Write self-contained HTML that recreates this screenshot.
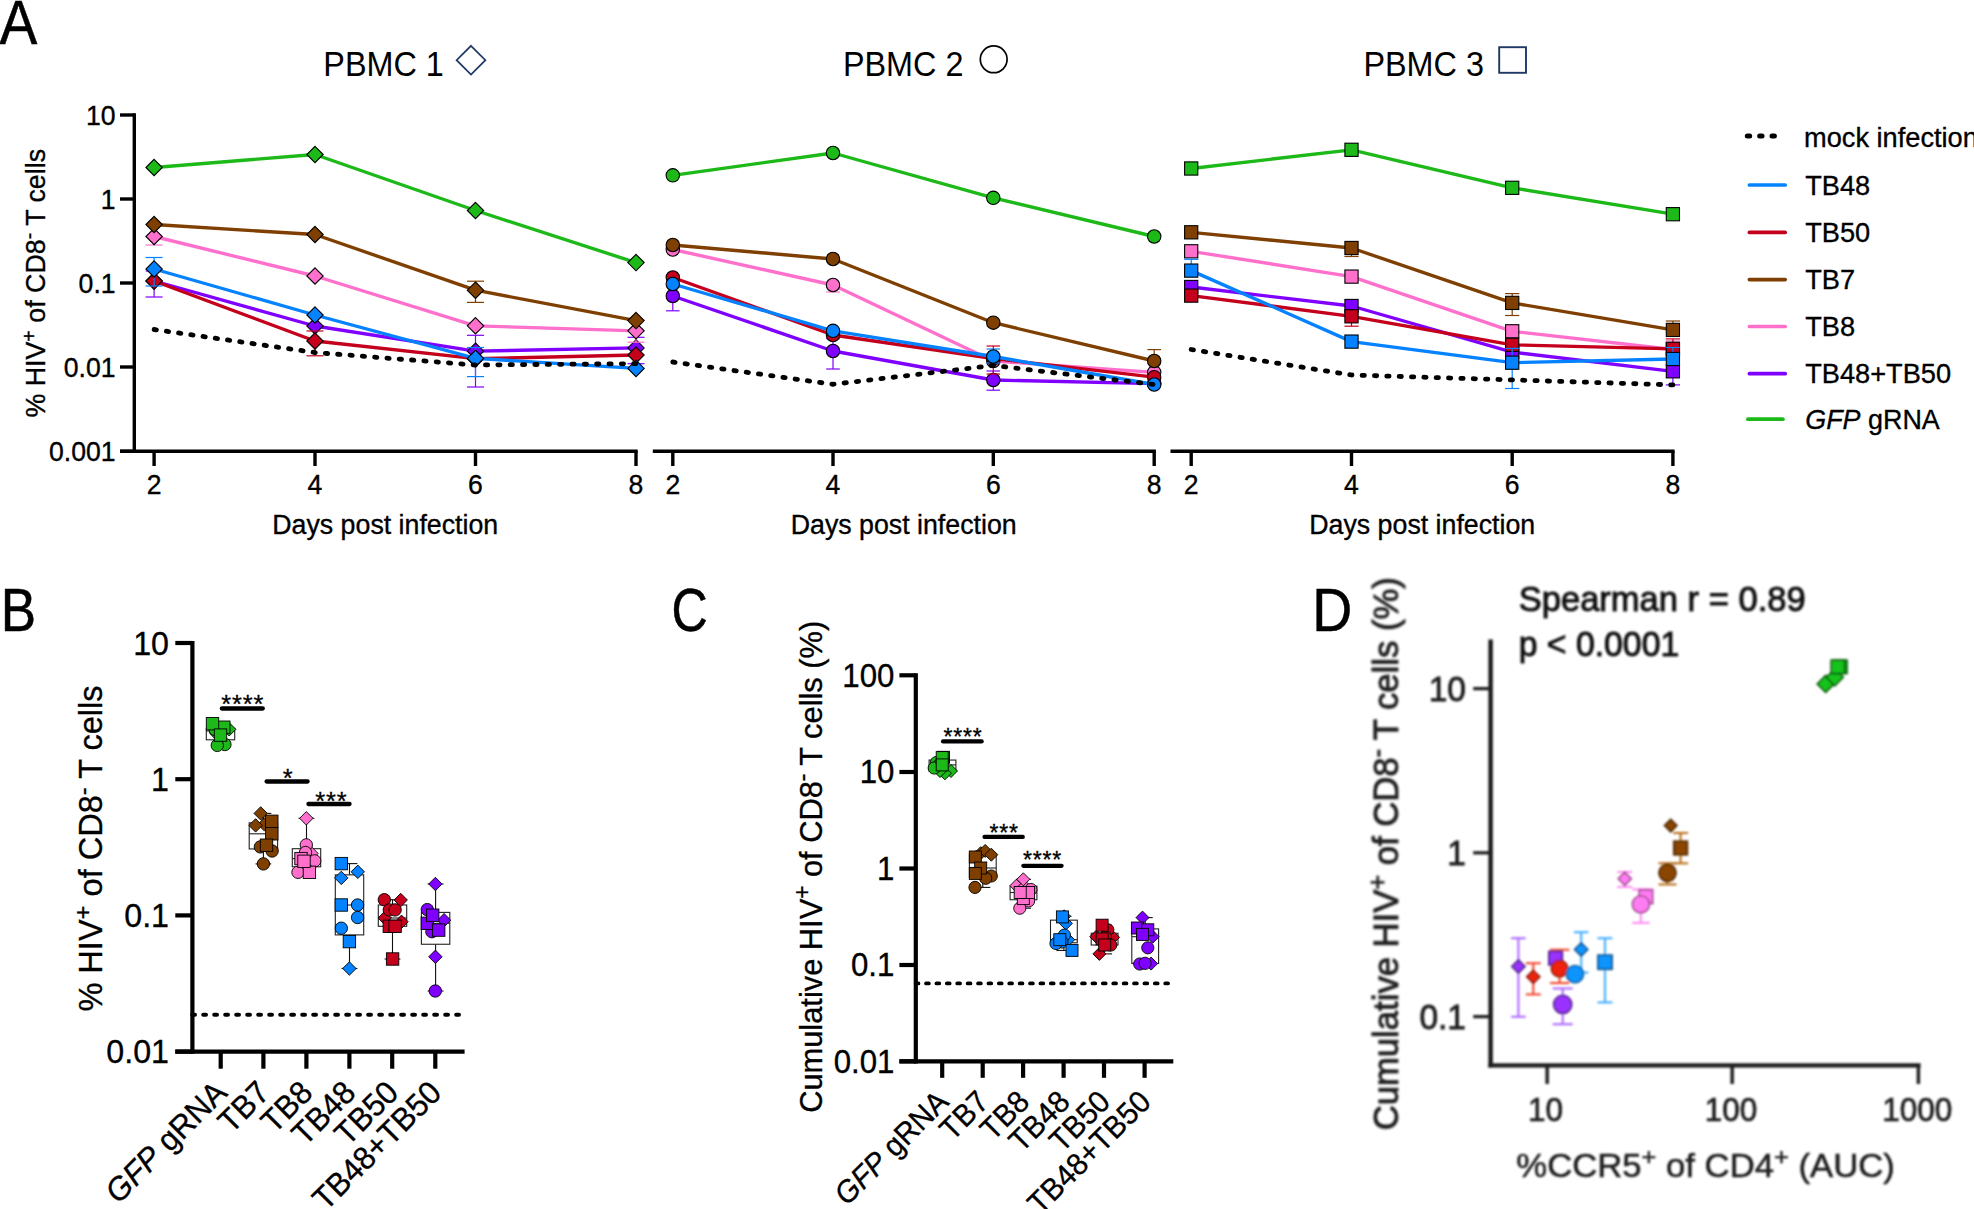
<!DOCTYPE html>
<html lang="en"><head><meta charset="utf-8"><title>Figure</title>
<style>
html,body{margin:0;padding:0;background:#fff;}
body{width:1974px;height:1209px;overflow:hidden;}
svg{display:block;font-family:"Liberation Sans",Arial,sans-serif;}
</style></head><body>
<svg width="1974" height="1209" viewBox="0 0 1974 1209">
<defs><filter id="blur" x="-5%" y="-5%" width="110%" height="110%"><feGaussianBlur stdDeviation="0.95"/></filter></defs>
<rect width="1974" height="1209" fill="#fff"/>

<text transform="translate(-0.5 44) scale(0.905 1)" font-size="62.6" stroke="#000" stroke-width="0.55">A</text>
<text transform="translate(0.7 630.6) scale(0.86 1)" font-size="61.6" stroke="#000" stroke-width="0.55">B</text>
<text transform="translate(671.6 631) scale(0.815 1)" font-size="61.5" stroke="#000" stroke-width="0.55">C</text>
<text transform="translate(1312.3 630.8) scale(0.905 1)" font-size="61.2" stroke="#000" stroke-width="0.55">D</text>
<line x1="134.3" y1="113.3" x2="134.3" y2="453" stroke="#000" stroke-width="3.4" stroke-linecap="butt" />
<line x1="120" y1="115" x2="134.3" y2="115" stroke="#000" stroke-width="3.4" stroke-linecap="butt" />
<line x1="120" y1="199" x2="134.3" y2="199" stroke="#000" stroke-width="3.4" stroke-linecap="butt" />
<line x1="120" y1="283" x2="134.3" y2="283" stroke="#000" stroke-width="3.4" stroke-linecap="butt" />
<line x1="120" y1="367" x2="134.3" y2="367" stroke="#000" stroke-width="3.4" stroke-linecap="butt" />
<line x1="120" y1="451.3" x2="134.3" y2="451.3" stroke="#000" stroke-width="3.4" stroke-linecap="butt" />
<text x="115.6" y="124.6" font-size="27.66" text-anchor="end" fill="#000" stroke="#000" stroke-width="0.35" textLength="29.59" lengthAdjust="spacingAndGlyphs" >10</text>
<text x="115.6" y="208.6" font-size="27.66" text-anchor="end" fill="#000" stroke="#000" stroke-width="0.35" textLength="14.79" lengthAdjust="spacingAndGlyphs" >1</text>
<text x="115.6" y="292.6" font-size="27.66" text-anchor="end" fill="#000" stroke="#000" stroke-width="0.35" textLength="36.98" lengthAdjust="spacingAndGlyphs" >0.1</text>
<text x="115.6" y="376.6" font-size="27.66" text-anchor="end" fill="#000" stroke="#000" stroke-width="0.35" textLength="51.77" lengthAdjust="spacingAndGlyphs" >0.01</text>
<text x="115.6" y="460.6" font-size="27.66" text-anchor="end" fill="#000" stroke="#000" stroke-width="0.35" textLength="66.57" lengthAdjust="spacingAndGlyphs" >0.001</text>
<text transform="translate(45.2 417.6) rotate(-90)" font-size="27.77" fill="#000" stroke="#000" stroke-width="0.35" textLength="268.7" lengthAdjust="spacingAndGlyphs">% HIV<tspan font-size="20.27" dy="-9.61">+</tspan><tspan dy="9.61"> of CD8</tspan><tspan font-size="20.27" dy="-9.61">-</tspan><tspan dy="9.61"> T cells</tspan></text>
<line x1="120" y1="451.3" x2="637.7" y2="451.3" stroke="#000" stroke-width="3.4" stroke-linecap="butt" />
<line x1="154.1" y1="451.3" x2="154.1" y2="466" stroke="#000" stroke-width="3.4" stroke-linecap="butt" />
<text x="154.1" y="494.4" font-size="27.66" text-anchor="middle" fill="#000" stroke="#000" stroke-width="0.35" textLength="14.79" lengthAdjust="spacingAndGlyphs" >2</text>
<line x1="315" y1="451.3" x2="315" y2="466" stroke="#000" stroke-width="3.4" stroke-linecap="butt" />
<text x="315" y="494.4" font-size="27.66" text-anchor="middle" fill="#000" stroke="#000" stroke-width="0.35" textLength="14.79" lengthAdjust="spacingAndGlyphs" >4</text>
<line x1="475.5" y1="451.3" x2="475.5" y2="466" stroke="#000" stroke-width="3.4" stroke-linecap="butt" />
<text x="475.5" y="494.4" font-size="27.66" text-anchor="middle" fill="#000" stroke="#000" stroke-width="0.35" textLength="14.79" lengthAdjust="spacingAndGlyphs" >6</text>
<line x1="636" y1="451.3" x2="636" y2="466" stroke="#000" stroke-width="3.4" stroke-linecap="butt" />
<text x="636" y="494.4" font-size="27.66" text-anchor="middle" fill="#000" stroke="#000" stroke-width="0.35" textLength="14.79" lengthAdjust="spacingAndGlyphs" >8</text>
<text x="385.25" y="533.9" font-size="27.82" text-anchor="middle" fill="#000" stroke="#000" stroke-width="0.35" textLength="226" lengthAdjust="spacingAndGlyphs" >Days post infection</text>
<text x="323.3" y="76.3" font-size="34.2" textLength="120.5" lengthAdjust="spacingAndGlyphs">PBMC 1</text>
<polyline points="154.1,167.5 315,154.5 475.5,210.5 636,262.6" fill="none" stroke="#1cb918" stroke-width="3.35" stroke-linejoin="round"/>
<path d="M154.1 159.3L162.3 167.5L154.1 175.7L145.9 167.5Z" fill="#1cb918" stroke="#000" stroke-width="1.1"/>
<path d="M315 146.3L323.2 154.5L315 162.7L306.8 154.5Z" fill="#1cb918" stroke="#000" stroke-width="1.1"/>
<path d="M475.5 202.3L483.7 210.5L475.5 218.7L467.3 210.5Z" fill="#1cb918" stroke="#000" stroke-width="1.1"/>
<path d="M636 254.4L644.2 262.6L636 270.8L627.8 262.6Z" fill="#1cb918" stroke="#000" stroke-width="1.1"/>
<line x1="154.1" y1="271" x2="154.1" y2="297" stroke="#8000ff" stroke-width="1.2" stroke-linecap="butt" />
<line x1="145.6" y1="271" x2="162.6" y2="271" stroke="#8000ff" stroke-width="1.2" stroke-linecap="butt" />
<line x1="145.6" y1="297" x2="162.6" y2="297" stroke="#8000ff" stroke-width="1.2" stroke-linecap="butt" />
<line x1="475.5" y1="335.3" x2="475.5" y2="387" stroke="#8000ff" stroke-width="1.2" stroke-linecap="butt" />
<line x1="467" y1="335.3" x2="484" y2="335.3" stroke="#8000ff" stroke-width="1.2" stroke-linecap="butt" />
<line x1="467" y1="387" x2="484" y2="387" stroke="#8000ff" stroke-width="1.2" stroke-linecap="butt" />
<line x1="636" y1="337.3" x2="636" y2="363.7" stroke="#8000ff" stroke-width="1.2" stroke-linecap="butt" />
<line x1="627.5" y1="337.3" x2="644.5" y2="337.3" stroke="#8000ff" stroke-width="1.2" stroke-linecap="butt" />
<line x1="627.5" y1="363.7" x2="644.5" y2="363.7" stroke="#8000ff" stroke-width="1.2" stroke-linecap="butt" />
<polyline points="154.1,281 315,326 475.5,351.2 636,347.9" fill="none" stroke="#8000ff" stroke-width="3.35" stroke-linejoin="round"/>
<path d="M154.1 272.8L162.3 281L154.1 289.2L145.9 281Z" fill="#8000ff" stroke="#000" stroke-width="1.1"/>
<path d="M315 317.8L323.2 326L315 334.2L306.8 326Z" fill="#8000ff" stroke="#000" stroke-width="1.1"/>
<path d="M475.5 343L483.7 351.2L475.5 359.4L467.3 351.2Z" fill="#8000ff" stroke="#000" stroke-width="1.1"/>
<path d="M636 339.7L644.2 347.9L636 356.1L627.8 347.9Z" fill="#8000ff" stroke="#000" stroke-width="1.1"/>
<line x1="154.1" y1="236.5" x2="154.1" y2="245" stroke="#ff70cc" stroke-width="1.2" stroke-linecap="butt" />
<line x1="145.6" y1="245" x2="162.6" y2="245" stroke="#ff70cc" stroke-width="1.2" stroke-linecap="butt" />
<line x1="636" y1="330.8" x2="636" y2="342.2" stroke="#ff70cc" stroke-width="1.2" stroke-linecap="butt" />
<line x1="627.5" y1="342.2" x2="644.5" y2="342.2" stroke="#ff70cc" stroke-width="1.2" stroke-linecap="butt" />
<polyline points="154.1,236.5 315,276 475.5,325.8 636,330.8" fill="none" stroke="#ff70cc" stroke-width="3.35" stroke-linejoin="round"/>
<path d="M154.1 228.3L162.3 236.5L154.1 244.7L145.9 236.5Z" fill="#ff70cc" stroke="#000" stroke-width="1.1"/>
<path d="M315 267.8L323.2 276L315 284.2L306.8 276Z" fill="#ff70cc" stroke="#000" stroke-width="1.1"/>
<path d="M475.5 317.6L483.7 325.8L475.5 334L467.3 325.8Z" fill="#ff70cc" stroke="#000" stroke-width="1.1"/>
<path d="M636 322.6L644.2 330.8L636 339L627.8 330.8Z" fill="#ff70cc" stroke="#000" stroke-width="1.1"/>
<line x1="475.5" y1="281.2" x2="475.5" y2="302.4" stroke="#7f3f00" stroke-width="1.2" stroke-linecap="butt" />
<line x1="467" y1="281.2" x2="484" y2="281.2" stroke="#7f3f00" stroke-width="1.2" stroke-linecap="butt" />
<line x1="467" y1="302.4" x2="484" y2="302.4" stroke="#7f3f00" stroke-width="1.2" stroke-linecap="butt" />
<polyline points="154.1,224.5 315,234.5 475.5,290.2 636,320.6" fill="none" stroke="#7f3f00" stroke-width="3.35" stroke-linejoin="round"/>
<path d="M154.1 216.3L162.3 224.5L154.1 232.7L145.9 224.5Z" fill="#7f3f00" stroke="#000" stroke-width="1.1"/>
<path d="M315 226.3L323.2 234.5L315 242.7L306.8 234.5Z" fill="#7f3f00" stroke="#000" stroke-width="1.1"/>
<path d="M475.5 282L483.7 290.2L475.5 298.4L467.3 290.2Z" fill="#7f3f00" stroke="#000" stroke-width="1.1"/>
<path d="M636 312.4L644.2 320.6L636 328.8L627.8 320.6Z" fill="#7f3f00" stroke="#000" stroke-width="1.1"/>
<line x1="315" y1="331" x2="315" y2="355.8" stroke="#c4001c" stroke-width="1.2" stroke-linecap="butt" />
<line x1="306.5" y1="331" x2="323.5" y2="331" stroke="#c4001c" stroke-width="1.2" stroke-linecap="butt" />
<line x1="306.5" y1="355.8" x2="323.5" y2="355.8" stroke="#c4001c" stroke-width="1.2" stroke-linecap="butt" />
<polyline points="154.1,281 315,341 475.5,358.7 636,355" fill="none" stroke="#c4001c" stroke-width="3.35" stroke-linejoin="round"/>
<path d="M154.1 272.8L162.3 281L154.1 289.2L145.9 281Z" fill="#c4001c" stroke="#000" stroke-width="1.1"/>
<path d="M315 332.8L323.2 341L315 349.2L306.8 341Z" fill="#c4001c" stroke="#000" stroke-width="1.1"/>
<path d="M475.5 350.5L483.7 358.7L475.5 366.9L467.3 358.7Z" fill="#c4001c" stroke="#000" stroke-width="1.1"/>
<path d="M636 346.8L644.2 355L636 363.2L627.8 355Z" fill="#c4001c" stroke="#000" stroke-width="1.1"/>
<line x1="154.1" y1="257.5" x2="154.1" y2="286" stroke="#0582ff" stroke-width="1.2" stroke-linecap="butt" />
<line x1="145.6" y1="257.5" x2="162.6" y2="257.5" stroke="#0582ff" stroke-width="1.2" stroke-linecap="butt" />
<line x1="145.6" y1="286" x2="162.6" y2="286" stroke="#0582ff" stroke-width="1.2" stroke-linecap="butt" />
<line x1="475.5" y1="347.5" x2="475.5" y2="376.6" stroke="#0582ff" stroke-width="1.2" stroke-linecap="butt" />
<line x1="467" y1="347.5" x2="484" y2="347.5" stroke="#0582ff" stroke-width="1.2" stroke-linecap="butt" />
<line x1="467" y1="376.6" x2="484" y2="376.6" stroke="#0582ff" stroke-width="1.2" stroke-linecap="butt" />
<polyline points="154.1,269 315,315 475.5,358.4 636,368.4" fill="none" stroke="#0582ff" stroke-width="3.35" stroke-linejoin="round"/>
<path d="M154.1 260.8L162.3 269L154.1 277.2L145.9 269Z" fill="#0582ff" stroke="#000" stroke-width="1.1"/>
<path d="M315 306.8L323.2 315L315 323.2L306.8 315Z" fill="#0582ff" stroke="#000" stroke-width="1.1"/>
<path d="M475.5 350.2L483.7 358.4L475.5 366.6L467.3 358.4Z" fill="#0582ff" stroke="#000" stroke-width="1.1"/>
<path d="M636 360.2L644.2 368.4L636 376.6L627.8 368.4Z" fill="#0582ff" stroke="#000" stroke-width="1.1"/>
<polyline points="154.1,329.5 315,352.5 475.5,365 636,363.7" fill="none" stroke="#000" stroke-width="4.8" stroke-linecap="round" stroke-linejoin="round" stroke-dasharray="2.3 10.05"/>
<line x1="652.8" y1="451.3" x2="1155.9" y2="451.3" stroke="#000" stroke-width="3.4" stroke-linecap="butt" />
<line x1="672.8" y1="451.3" x2="672.8" y2="466" stroke="#000" stroke-width="3.4" stroke-linecap="butt" />
<text x="672.8" y="494.4" font-size="27.66" text-anchor="middle" fill="#000" stroke="#000" stroke-width="0.35" textLength="14.79" lengthAdjust="spacingAndGlyphs" >2</text>
<line x1="833" y1="451.3" x2="833" y2="466" stroke="#000" stroke-width="3.4" stroke-linecap="butt" />
<text x="833" y="494.4" font-size="27.66" text-anchor="middle" fill="#000" stroke="#000" stroke-width="0.35" textLength="14.79" lengthAdjust="spacingAndGlyphs" >4</text>
<line x1="993.3" y1="451.3" x2="993.3" y2="466" stroke="#000" stroke-width="3.4" stroke-linecap="butt" />
<text x="993.3" y="494.4" font-size="27.66" text-anchor="middle" fill="#000" stroke="#000" stroke-width="0.35" textLength="14.79" lengthAdjust="spacingAndGlyphs" >6</text>
<line x1="1154.2" y1="451.3" x2="1154.2" y2="466" stroke="#000" stroke-width="3.4" stroke-linecap="butt" />
<text x="1154.2" y="494.4" font-size="27.66" text-anchor="middle" fill="#000" stroke="#000" stroke-width="0.35" textLength="14.79" lengthAdjust="spacingAndGlyphs" >8</text>
<text x="903.7" y="533.9" font-size="27.82" text-anchor="middle" fill="#000" stroke="#000" stroke-width="0.35" textLength="226" lengthAdjust="spacingAndGlyphs" >Days post infection</text>
<text x="842.9" y="76.3" font-size="34.2" textLength="120.5" lengthAdjust="spacingAndGlyphs">PBMC 2</text>
<polyline points="672.8,175.3 833,153 993.3,197.8 1154.2,236.5" fill="none" stroke="#1cb918" stroke-width="3.35" stroke-linejoin="round"/>
<circle cx="672.8" cy="175.3" r="6.7" fill="#1cb918" stroke="#000" stroke-width="1.1"/>
<circle cx="833" cy="153" r="6.7" fill="#1cb918" stroke="#000" stroke-width="1.1"/>
<circle cx="993.3" cy="197.8" r="6.7" fill="#1cb918" stroke="#000" stroke-width="1.1"/>
<circle cx="1154.2" cy="236.5" r="6.7" fill="#1cb918" stroke="#000" stroke-width="1.1"/>
<line x1="672.8" y1="296" x2="672.8" y2="310.8" stroke="#8000ff" stroke-width="1.2" stroke-linecap="butt" />
<line x1="666" y1="310.8" x2="679.6" y2="310.8" stroke="#8000ff" stroke-width="1.2" stroke-linecap="butt" />
<line x1="833" y1="338.7" x2="833" y2="369" stroke="#8000ff" stroke-width="1.2" stroke-linecap="butt" />
<line x1="826.2" y1="338.7" x2="839.8" y2="338.7" stroke="#8000ff" stroke-width="1.2" stroke-linecap="butt" />
<line x1="826.2" y1="369" x2="839.8" y2="369" stroke="#8000ff" stroke-width="1.2" stroke-linecap="butt" />
<line x1="993.3" y1="371" x2="993.3" y2="390.2" stroke="#8000ff" stroke-width="1.2" stroke-linecap="butt" />
<line x1="986.5" y1="371" x2="1000.1" y2="371" stroke="#8000ff" stroke-width="1.2" stroke-linecap="butt" />
<line x1="986.5" y1="390.2" x2="1000.1" y2="390.2" stroke="#8000ff" stroke-width="1.2" stroke-linecap="butt" />
<polyline points="672.8,296 833,351 993.3,380 1154.2,383.7" fill="none" stroke="#8000ff" stroke-width="3.35" stroke-linejoin="round"/>
<circle cx="672.8" cy="296" r="6.7" fill="#8000ff" stroke="#000" stroke-width="1.1"/>
<circle cx="833" cy="351" r="6.7" fill="#8000ff" stroke="#000" stroke-width="1.1"/>
<circle cx="993.3" cy="380" r="6.7" fill="#8000ff" stroke="#000" stroke-width="1.1"/>
<circle cx="1154.2" cy="383.7" r="6.7" fill="#8000ff" stroke="#000" stroke-width="1.1"/>
<line x1="833" y1="285" x2="833" y2="292" stroke="#ff70cc" stroke-width="1.2" stroke-linecap="butt" />
<line x1="826.2" y1="292" x2="839.8" y2="292" stroke="#ff70cc" stroke-width="1.2" stroke-linecap="butt" />
<polyline points="672.8,249.5 833,285 993.3,361 1154.2,372.3" fill="none" stroke="#ff70cc" stroke-width="3.35" stroke-linejoin="round"/>
<circle cx="672.8" cy="249.5" r="6.7" fill="#ff70cc" stroke="#000" stroke-width="1.1"/>
<circle cx="833" cy="285" r="6.7" fill="#ff70cc" stroke="#000" stroke-width="1.1"/>
<circle cx="993.3" cy="361" r="6.7" fill="#ff70cc" stroke="#000" stroke-width="1.1"/>
<circle cx="1154.2" cy="372.3" r="6.7" fill="#ff70cc" stroke="#000" stroke-width="1.1"/>
<line x1="1154.2" y1="349.6" x2="1154.2" y2="361" stroke="#7f3f00" stroke-width="1.2" stroke-linecap="butt" />
<line x1="1147.4" y1="349.6" x2="1161" y2="349.6" stroke="#7f3f00" stroke-width="1.2" stroke-linecap="butt" />
<polyline points="672.8,245 833,259 993.3,322.7 1154.2,361" fill="none" stroke="#7f3f00" stroke-width="3.35" stroke-linejoin="round"/>
<circle cx="672.8" cy="245" r="6.7" fill="#7f3f00" stroke="#000" stroke-width="1.1"/>
<circle cx="833" cy="259" r="6.7" fill="#7f3f00" stroke="#000" stroke-width="1.1"/>
<circle cx="993.3" cy="322.7" r="6.7" fill="#7f3f00" stroke="#000" stroke-width="1.1"/>
<circle cx="1154.2" cy="361" r="6.7" fill="#7f3f00" stroke="#000" stroke-width="1.1"/>
<line x1="993.3" y1="346" x2="993.3" y2="374" stroke="#c4001c" stroke-width="1.2" stroke-linecap="butt" />
<line x1="986.5" y1="346" x2="1000.1" y2="346" stroke="#c4001c" stroke-width="1.2" stroke-linecap="butt" />
<line x1="986.5" y1="374" x2="1000.1" y2="374" stroke="#c4001c" stroke-width="1.2" stroke-linecap="butt" />
<polyline points="672.8,277.5 833,335 993.3,358.5 1154.2,377.2" fill="none" stroke="#c4001c" stroke-width="3.35" stroke-linejoin="round"/>
<circle cx="672.8" cy="277.5" r="6.7" fill="#c4001c" stroke="#000" stroke-width="1.1"/>
<circle cx="833" cy="335" r="6.7" fill="#c4001c" stroke="#000" stroke-width="1.1"/>
<circle cx="993.3" cy="358.5" r="6.7" fill="#c4001c" stroke="#000" stroke-width="1.1"/>
<circle cx="1154.2" cy="377.2" r="6.7" fill="#c4001c" stroke="#000" stroke-width="1.1"/>
<line x1="993.3" y1="349" x2="993.3" y2="363" stroke="#0582ff" stroke-width="1.2" stroke-linecap="butt" />
<line x1="986.5" y1="349" x2="1000.1" y2="349" stroke="#0582ff" stroke-width="1.2" stroke-linecap="butt" />
<line x1="986.5" y1="363" x2="1000.1" y2="363" stroke="#0582ff" stroke-width="1.2" stroke-linecap="butt" />
<polyline points="672.8,284 833,330.8 993.3,356.5 1154.2,384.5" fill="none" stroke="#0582ff" stroke-width="3.35" stroke-linejoin="round"/>
<circle cx="672.8" cy="284" r="6.7" fill="#0582ff" stroke="#000" stroke-width="1.1"/>
<circle cx="833" cy="330.8" r="6.7" fill="#0582ff" stroke="#000" stroke-width="1.1"/>
<circle cx="993.3" cy="356.5" r="6.7" fill="#0582ff" stroke="#000" stroke-width="1.1"/>
<circle cx="1154.2" cy="384.5" r="6.7" fill="#0582ff" stroke="#000" stroke-width="1.1"/>
<polyline points="672.8,362 833,384.3 993.3,365.5 1154.2,384.5" fill="none" stroke="#000" stroke-width="4.8" stroke-linecap="round" stroke-linejoin="round" stroke-dasharray="2.3 10.05"/>
<line x1="1170.5" y1="451.3" x2="1674.6" y2="451.3" stroke="#000" stroke-width="3.4" stroke-linecap="butt" />
<line x1="1191.2" y1="451.3" x2="1191.2" y2="466" stroke="#000" stroke-width="3.4" stroke-linecap="butt" />
<text x="1191.2" y="494.4" font-size="27.66" text-anchor="middle" fill="#000" stroke="#000" stroke-width="0.35" textLength="14.79" lengthAdjust="spacingAndGlyphs" >2</text>
<line x1="1351.5" y1="451.3" x2="1351.5" y2="466" stroke="#000" stroke-width="3.4" stroke-linecap="butt" />
<text x="1351.5" y="494.4" font-size="27.66" text-anchor="middle" fill="#000" stroke="#000" stroke-width="0.35" textLength="14.79" lengthAdjust="spacingAndGlyphs" >4</text>
<line x1="1512.2" y1="451.3" x2="1512.2" y2="466" stroke="#000" stroke-width="3.4" stroke-linecap="butt" />
<text x="1512.2" y="494.4" font-size="27.66" text-anchor="middle" fill="#000" stroke="#000" stroke-width="0.35" textLength="14.79" lengthAdjust="spacingAndGlyphs" >6</text>
<line x1="1672.9" y1="451.3" x2="1672.9" y2="466" stroke="#000" stroke-width="3.4" stroke-linecap="butt" />
<text x="1672.9" y="494.4" font-size="27.66" text-anchor="middle" fill="#000" stroke="#000" stroke-width="0.35" textLength="14.79" lengthAdjust="spacingAndGlyphs" >8</text>
<text x="1422.25" y="533.9" font-size="27.82" text-anchor="middle" fill="#000" stroke="#000" stroke-width="0.35" textLength="226" lengthAdjust="spacingAndGlyphs" >Days post infection</text>
<text x="1363.4" y="76.3" font-size="34.2" textLength="120.5" lengthAdjust="spacingAndGlyphs">PBMC 3</text>
<polyline points="1191.2,168.5 1351.5,149.8 1512.2,187.8 1672.9,214.2" fill="none" stroke="#1cb918" stroke-width="3.35" stroke-linejoin="round"/>
<rect x="1184.6" y="161.9" width="13.2" height="13.2" fill="#1cb918" stroke="#000" stroke-width="1.1"/>
<rect x="1344.9" y="143.2" width="13.2" height="13.2" fill="#1cb918" stroke="#000" stroke-width="1.1"/>
<rect x="1505.6" y="181.2" width="13.2" height="13.2" fill="#1cb918" stroke="#000" stroke-width="1.1"/>
<rect x="1666.3" y="207.6" width="13.2" height="13.2" fill="#1cb918" stroke="#000" stroke-width="1.1"/>
<line x1="1672.9" y1="371.3" x2="1672.9" y2="384.9" stroke="#8000ff" stroke-width="1.2" stroke-linecap="butt" />
<line x1="1665.8" y1="384.9" x2="1680" y2="384.9" stroke="#8000ff" stroke-width="1.2" stroke-linecap="butt" />
<polyline points="1191.2,287 1351.5,306 1512.2,352.1 1672.9,371.3" fill="none" stroke="#8000ff" stroke-width="3.35" stroke-linejoin="round"/>
<rect x="1184.6" y="280.4" width="13.2" height="13.2" fill="#8000ff" stroke="#000" stroke-width="1.1"/>
<rect x="1344.9" y="299.4" width="13.2" height="13.2" fill="#8000ff" stroke="#000" stroke-width="1.1"/>
<rect x="1505.6" y="345.5" width="13.2" height="13.2" fill="#8000ff" stroke="#000" stroke-width="1.1"/>
<rect x="1666.3" y="364.7" width="13.2" height="13.2" fill="#8000ff" stroke="#000" stroke-width="1.1"/>
<line x1="1672.9" y1="340.9" x2="1672.9" y2="349.5" stroke="#ff70cc" stroke-width="1.2" stroke-linecap="butt" />
<line x1="1665.8" y1="340.9" x2="1680" y2="340.9" stroke="#ff70cc" stroke-width="1.2" stroke-linecap="butt" />
<polyline points="1191.2,251.3 1351.5,276.6 1512.2,331.3 1672.9,349.5" fill="none" stroke="#ff70cc" stroke-width="3.35" stroke-linejoin="round"/>
<rect x="1184.6" y="244.7" width="13.2" height="13.2" fill="#ff70cc" stroke="#000" stroke-width="1.1"/>
<rect x="1344.9" y="270" width="13.2" height="13.2" fill="#ff70cc" stroke="#000" stroke-width="1.1"/>
<rect x="1505.6" y="324.7" width="13.2" height="13.2" fill="#ff70cc" stroke="#000" stroke-width="1.1"/>
<rect x="1666.3" y="342.9" width="13.2" height="13.2" fill="#ff70cc" stroke="#000" stroke-width="1.1"/>
<line x1="1351.5" y1="248" x2="1351.5" y2="256.5" stroke="#7f3f00" stroke-width="1.2" stroke-linecap="butt" />
<line x1="1344.4" y1="256.5" x2="1358.6" y2="256.5" stroke="#7f3f00" stroke-width="1.2" stroke-linecap="butt" />
<line x1="1512.2" y1="293.6" x2="1512.2" y2="315.5" stroke="#7f3f00" stroke-width="1.2" stroke-linecap="butt" />
<line x1="1505.1" y1="293.6" x2="1519.3" y2="293.6" stroke="#7f3f00" stroke-width="1.2" stroke-linecap="butt" />
<line x1="1505.1" y1="315.5" x2="1519.3" y2="315.5" stroke="#7f3f00" stroke-width="1.2" stroke-linecap="butt" />
<line x1="1672.9" y1="321" x2="1672.9" y2="329.9" stroke="#7f3f00" stroke-width="1.2" stroke-linecap="butt" />
<line x1="1665.8" y1="321" x2="1680" y2="321" stroke="#7f3f00" stroke-width="1.2" stroke-linecap="butt" />
<polyline points="1191.2,232.3 1351.5,248 1512.2,302.9 1672.9,329.9" fill="none" stroke="#7f3f00" stroke-width="3.35" stroke-linejoin="round"/>
<rect x="1184.6" y="225.7" width="13.2" height="13.2" fill="#7f3f00" stroke="#000" stroke-width="1.1"/>
<rect x="1344.9" y="241.4" width="13.2" height="13.2" fill="#7f3f00" stroke="#000" stroke-width="1.1"/>
<rect x="1505.6" y="296.3" width="13.2" height="13.2" fill="#7f3f00" stroke="#000" stroke-width="1.1"/>
<rect x="1666.3" y="323.3" width="13.2" height="13.2" fill="#7f3f00" stroke="#000" stroke-width="1.1"/>
<line x1="1351.5" y1="316.3" x2="1351.5" y2="326.2" stroke="#c4001c" stroke-width="1.2" stroke-linecap="butt" />
<line x1="1344.4" y1="326.2" x2="1358.6" y2="326.2" stroke="#c4001c" stroke-width="1.2" stroke-linecap="butt" />
<line x1="1672.9" y1="338.9" x2="1672.9" y2="348.8" stroke="#c4001c" stroke-width="1.2" stroke-linecap="butt" />
<line x1="1665.8" y1="338.9" x2="1680" y2="338.9" stroke="#c4001c" stroke-width="1.2" stroke-linecap="butt" />
<polyline points="1191.2,295.6 1351.5,316.3 1512.2,344.8 1672.9,348.8" fill="none" stroke="#c4001c" stroke-width="3.35" stroke-linejoin="round"/>
<rect x="1184.6" y="289" width="13.2" height="13.2" fill="#c4001c" stroke="#000" stroke-width="1.1"/>
<rect x="1344.9" y="309.7" width="13.2" height="13.2" fill="#c4001c" stroke="#000" stroke-width="1.1"/>
<rect x="1505.6" y="338.2" width="13.2" height="13.2" fill="#c4001c" stroke="#000" stroke-width="1.1"/>
<rect x="1666.3" y="342.2" width="13.2" height="13.2" fill="#c4001c" stroke="#000" stroke-width="1.1"/>
<line x1="1191.2" y1="259.3" x2="1191.2" y2="270.6" stroke="#0582ff" stroke-width="1.2" stroke-linecap="butt" />
<line x1="1184.1" y1="259.3" x2="1198.3" y2="259.3" stroke="#0582ff" stroke-width="1.2" stroke-linecap="butt" />
<line x1="1512.2" y1="348.4" x2="1512.2" y2="388.5" stroke="#0582ff" stroke-width="1.2" stroke-linecap="butt" />
<line x1="1505.1" y1="348.4" x2="1519.3" y2="348.4" stroke="#0582ff" stroke-width="1.2" stroke-linecap="butt" />
<line x1="1505.1" y1="388.5" x2="1519.3" y2="388.5" stroke="#0582ff" stroke-width="1.2" stroke-linecap="butt" />
<line x1="1672.9" y1="347.5" x2="1672.9" y2="359" stroke="#0582ff" stroke-width="1.2" stroke-linecap="butt" />
<line x1="1665.8" y1="347.5" x2="1680" y2="347.5" stroke="#0582ff" stroke-width="1.2" stroke-linecap="butt" />
<polyline points="1191.2,270.6 1351.5,341.6 1512.2,362.7 1672.9,359" fill="none" stroke="#0582ff" stroke-width="3.35" stroke-linejoin="round"/>
<rect x="1184.6" y="264" width="13.2" height="13.2" fill="#0582ff" stroke="#000" stroke-width="1.1"/>
<rect x="1344.9" y="335" width="13.2" height="13.2" fill="#0582ff" stroke="#000" stroke-width="1.1"/>
<rect x="1505.6" y="356.1" width="13.2" height="13.2" fill="#0582ff" stroke="#000" stroke-width="1.1"/>
<rect x="1666.3" y="352.4" width="13.2" height="13.2" fill="#0582ff" stroke="#000" stroke-width="1.1"/>
<polyline points="1191.2,349.5 1351.5,375 1512.2,379.9 1672.9,384.9" fill="none" stroke="#000" stroke-width="4.8" stroke-linecap="round" stroke-linejoin="round" stroke-dasharray="2.3 10.05"/>
<path d="M471 45.8L485.4 60.2L471 74.6L456.6 60.2Z" fill="none" stroke="#1f3864" stroke-width="1.7"/>
<circle cx="993.7" cy="59.3" r="13.4" fill="none" stroke="#000" stroke-width="1.7"/>
<rect x="1499.2" y="47.2" width="26.8" height="25.6" fill="none" stroke="#1f3864" stroke-width="1.9"/>
<line x1="1747.3" y1="136.1" x2="1777" y2="136.1" stroke="#000" stroke-width="5" stroke-linecap="round" stroke-dasharray="2.4 9.95"/>
<text x="1804" y="146.7" font-size="28.29" text-anchor="start" fill="#000" stroke="#000" stroke-width="0.35" textLength="173.85" lengthAdjust="spacingAndGlyphs" >mock infection</text>
<line x1="1749.4" y1="185" x2="1785.2" y2="185" stroke="#0582ff" stroke-width="3.7" stroke-linecap="round" />
<text x="1805.2" y="194.5" font-size="28.29" text-anchor="start" fill="#000" stroke="#000" stroke-width="0.35" textLength="65.01" lengthAdjust="spacingAndGlyphs" >TB48</text>
<line x1="1749.4" y1="232.4" x2="1785.2" y2="232.4" stroke="#c4001c" stroke-width="3.7" stroke-linecap="round" />
<text x="1805.2" y="242" font-size="28.29" text-anchor="start" fill="#000" stroke="#000" stroke-width="0.35" textLength="65.01" lengthAdjust="spacingAndGlyphs" >TB50</text>
<line x1="1749.4" y1="279.6" x2="1785.2" y2="279.6" stroke="#7f3f00" stroke-width="3.7" stroke-linecap="round" />
<text x="1805.2" y="289.1" font-size="28.29" text-anchor="start" fill="#000" stroke="#000" stroke-width="0.35" textLength="49.88" lengthAdjust="spacingAndGlyphs" >TB7</text>
<line x1="1749.4" y1="326.5" x2="1785.2" y2="326.5" stroke="#ff70cc" stroke-width="3.7" stroke-linecap="round" />
<text x="1805.2" y="336.3" font-size="28.29" text-anchor="start" fill="#000" stroke="#000" stroke-width="0.35" textLength="49.88" lengthAdjust="spacingAndGlyphs" >TB8</text>
<line x1="1749.4" y1="373.7" x2="1785.2" y2="373.7" stroke="#8000ff" stroke-width="3.7" stroke-linecap="round" />
<text x="1805.2" y="383.2" font-size="28.29" text-anchor="start" fill="#000" stroke="#000" stroke-width="0.35" textLength="145.91" lengthAdjust="spacingAndGlyphs" >TB48+TB50</text>
<line x1="1747.9" y1="419.2" x2="1782.9" y2="419.2" stroke="#1cb918" stroke-width="3.7" stroke-linecap="round" />
<text transform="translate(1805.2 429.0)" font-size="28.29" fill="#000" stroke="#000" stroke-width="0.35" textLength="134.6" lengthAdjust="spacingAndGlyphs"><tspan font-style="italic">GFP</tspan> gRNA</text>
<line x1="192.4" y1="640.9" x2="192.4" y2="1053.7" stroke="#000" stroke-width="4.2" stroke-linecap="butt" />
<line x1="175.3" y1="643" x2="192.4" y2="643" stroke="#000" stroke-width="4.2" stroke-linecap="butt" />
<line x1="175.3" y1="779.2" x2="192.4" y2="779.2" stroke="#000" stroke-width="4.2" stroke-linecap="butt" />
<line x1="175.3" y1="915.4" x2="192.4" y2="915.4" stroke="#000" stroke-width="4.2" stroke-linecap="butt" />
<line x1="175.3" y1="1051.6" x2="192.4" y2="1051.6" stroke="#000" stroke-width="4.2" stroke-linecap="butt" />
<line x1="175.3" y1="1051.6" x2="464.6" y2="1051.6" stroke="#000" stroke-width="4.2" stroke-linecap="butt" />
<text x="169" y="654.6" font-size="33.49" text-anchor="end" fill="#000" stroke="#000" stroke-width="0.35" textLength="35.82" lengthAdjust="spacingAndGlyphs" >10</text>
<text x="169" y="790.8" font-size="33.49" text-anchor="end" fill="#000" stroke="#000" stroke-width="0.35" textLength="17.91" lengthAdjust="spacingAndGlyphs" >1</text>
<text x="169" y="927" font-size="33.49" text-anchor="end" fill="#000" stroke="#000" stroke-width="0.35" textLength="44.76" lengthAdjust="spacingAndGlyphs" >0.1</text>
<text x="169" y="1063.2" font-size="33.49" text-anchor="end" fill="#000" stroke="#000" stroke-width="0.35" textLength="62.67" lengthAdjust="spacingAndGlyphs" >0.01</text>
<line x1="220.7" y1="1051.6" x2="220.7" y2="1068.7" stroke="#000" stroke-width="4.2" stroke-linecap="butt" />
<line x1="263.4" y1="1051.6" x2="263.4" y2="1068.7" stroke="#000" stroke-width="4.2" stroke-linecap="butt" />
<line x1="306.4" y1="1051.6" x2="306.4" y2="1068.7" stroke="#000" stroke-width="4.2" stroke-linecap="butt" />
<line x1="349.4" y1="1051.6" x2="349.4" y2="1068.7" stroke="#000" stroke-width="4.2" stroke-linecap="butt" />
<line x1="392.2" y1="1051.6" x2="392.2" y2="1068.7" stroke="#000" stroke-width="4.2" stroke-linecap="butt" />
<line x1="435.3" y1="1051.6" x2="435.3" y2="1068.7" stroke="#000" stroke-width="4.2" stroke-linecap="butt" />
<text transform="translate(102.4 1011.6) rotate(-90)" font-size="33.59" fill="#000" stroke="#000" stroke-width="0.35" textLength="326.2" lengthAdjust="spacingAndGlyphs">% HIV<tspan font-size="24.52" dy="-11.63">+</tspan><tspan dy="11.63"> of CD8</tspan><tspan font-size="24.52" dy="-11.63">-</tspan><tspan dy="11.63"> T cells</tspan></text>
<text transform="translate(228.7 1094.5) rotate(-45) translate(-155.81 0)" font-size="32.24" fill="#000" stroke="#000" stroke-width="0.35" textLength="155.81" lengthAdjust="spacingAndGlyphs"><tspan font-style="italic">GFP</tspan> gRNA</text>
<text transform="translate(271.4 1094.5) rotate(-45)" font-size="32.24" text-anchor="end" fill="#000" stroke="#000" stroke-width="0.35" textLength="56.85" lengthAdjust="spacingAndGlyphs" >TB7</text>
<text transform="translate(314.4 1094.5) rotate(-45)" font-size="32.24" text-anchor="end" fill="#000" stroke="#000" stroke-width="0.35" textLength="56.85" lengthAdjust="spacingAndGlyphs" >TB8</text>
<text transform="translate(357.4 1094.5) rotate(-45)" font-size="32.24" text-anchor="end" fill="#000" stroke="#000" stroke-width="0.35" textLength="74.09" lengthAdjust="spacingAndGlyphs" >TB48</text>
<text transform="translate(400.2 1094.5) rotate(-45)" font-size="32.24" text-anchor="end" fill="#000" stroke="#000" stroke-width="0.35" textLength="74.09" lengthAdjust="spacingAndGlyphs" >TB50</text>
<text transform="translate(443.3 1094.5) rotate(-45)" font-size="32.24" text-anchor="end" fill="#000" stroke="#000" stroke-width="0.35" textLength="166.29" lengthAdjust="spacingAndGlyphs" >TB48+TB50</text>
<line x1="192.25" y1="1014.8" x2="459.5" y2="1014.8" stroke="#000" stroke-width="4.1" stroke-linecap="round" stroke-dasharray="2.7 8.3"/>
<line x1="220.5" y1="723.7" x2="220.5" y2="728.25" stroke="#111" stroke-width="1.1" stroke-linecap="butt" />
<line x1="220.5" y1="739.8" x2="220.5" y2="745.4" stroke="#111" stroke-width="1.1" stroke-linecap="butt" />
<line x1="212.6" y1="723.7" x2="228.4" y2="723.7" stroke="#111" stroke-width="1.1" stroke-linecap="butt" />
<line x1="212.6" y1="745.4" x2="228.4" y2="745.4" stroke="#111" stroke-width="1.1" stroke-linecap="butt" />
<rect x="206.3" y="728.25" width="28.4" height="11.55" fill="#fff" stroke="#222" stroke-width="1.1"/>
<line x1="206.3" y1="731" x2="234.7" y2="731" stroke="#222" stroke-width="1.1" stroke-linecap="butt" />
<line x1="263.4" y1="813.4" x2="263.4" y2="822.85" stroke="#111" stroke-width="1.1" stroke-linecap="butt" />
<line x1="263.4" y1="848.95" x2="263.4" y2="863.9" stroke="#111" stroke-width="1.1" stroke-linecap="butt" />
<line x1="255.5" y1="813.4" x2="271.3" y2="813.4" stroke="#111" stroke-width="1.1" stroke-linecap="butt" />
<line x1="255.5" y1="863.9" x2="271.3" y2="863.9" stroke="#111" stroke-width="1.1" stroke-linecap="butt" />
<rect x="249.2" y="822.85" width="28.4" height="26.1" fill="#fff" stroke="#222" stroke-width="1.1"/>
<line x1="249.2" y1="833.8" x2="277.6" y2="833.8" stroke="#222" stroke-width="1.1" stroke-linecap="butt" />
<line x1="306.5" y1="818.3" x2="306.5" y2="848.7" stroke="#111" stroke-width="1.1" stroke-linecap="butt" />
<line x1="306.5" y1="866.8" x2="306.5" y2="872.3" stroke="#111" stroke-width="1.1" stroke-linecap="butt" />
<line x1="298.6" y1="818.3" x2="314.4" y2="818.3" stroke="#111" stroke-width="1.1" stroke-linecap="butt" />
<line x1="298.6" y1="872.3" x2="314.4" y2="872.3" stroke="#111" stroke-width="1.1" stroke-linecap="butt" />
<rect x="292.3" y="848.7" width="28.4" height="18.1" fill="#fff" stroke="#222" stroke-width="1.1"/>
<line x1="292.3" y1="858.6" x2="320.7" y2="858.6" stroke="#222" stroke-width="1.1" stroke-linecap="butt" />
<line x1="349.5" y1="863.6" x2="349.5" y2="874.85" stroke="#111" stroke-width="1.1" stroke-linecap="butt" />
<line x1="349.5" y1="934.9" x2="349.5" y2="968.5" stroke="#111" stroke-width="1.1" stroke-linecap="butt" />
<line x1="341.6" y1="863.6" x2="357.4" y2="863.6" stroke="#111" stroke-width="1.1" stroke-linecap="butt" />
<line x1="341.6" y1="968.5" x2="357.4" y2="968.5" stroke="#111" stroke-width="1.1" stroke-linecap="butt" />
<rect x="335.3" y="874.85" width="28.4" height="60.05" fill="#fff" stroke="#222" stroke-width="1.1"/>
<line x1="335.3" y1="905" x2="363.7" y2="905" stroke="#222" stroke-width="1.1" stroke-linecap="butt" />
<line x1="392.5" y1="899.7" x2="392.5" y2="904.95" stroke="#111" stroke-width="1.1" stroke-linecap="butt" />
<line x1="392.5" y1="926.3" x2="392.5" y2="959" stroke="#111" stroke-width="1.1" stroke-linecap="butt" />
<line x1="384.6" y1="899.7" x2="400.4" y2="899.7" stroke="#111" stroke-width="1.1" stroke-linecap="butt" />
<line x1="384.6" y1="959" x2="400.4" y2="959" stroke="#111" stroke-width="1.1" stroke-linecap="butt" />
<rect x="378.3" y="904.95" width="28.4" height="21.35" fill="#fff" stroke="#222" stroke-width="1.1"/>
<line x1="378.3" y1="918" x2="406.7" y2="918" stroke="#222" stroke-width="1.1" stroke-linecap="butt" />
<line x1="435.6" y1="884" x2="435.6" y2="912.4" stroke="#111" stroke-width="1.1" stroke-linecap="butt" />
<line x1="435.6" y1="944.25" x2="435.6" y2="991" stroke="#111" stroke-width="1.1" stroke-linecap="butt" />
<line x1="427.7" y1="884" x2="443.5" y2="884" stroke="#111" stroke-width="1.1" stroke-linecap="butt" />
<line x1="427.7" y1="991" x2="443.5" y2="991" stroke="#111" stroke-width="1.1" stroke-linecap="butt" />
<rect x="421.4" y="912.4" width="28.4" height="31.85" fill="#fff" stroke="#222" stroke-width="1.1"/>
<line x1="421.4" y1="923.3" x2="449.8" y2="923.3" stroke="#222" stroke-width="1.1" stroke-linecap="butt" />
<path d="M229.2 722.6L235.9 729.3L229.2 736L222.5 729.3Z" fill="#1cb918" stroke="#000" stroke-width="0.9"/>
<path d="M216 726.3L222.7 733L216 739.7L209.3 733Z" fill="#1cb918" stroke="#000" stroke-width="0.9"/>
<path d="M222 724.3L228.7 731L222 737.7L215.3 731Z" fill="#1cb918" stroke="#000" stroke-width="0.9"/>
<path d="M264.5 817.7L271.2 824.4L264.5 831.1L257.8 824.4Z" fill="#7f3f00" stroke="#000" stroke-width="0.9"/>
<path d="M260.7 806.7L267.4 813.4L260.7 820.1L254 813.4Z" fill="#7f3f00" stroke="#000" stroke-width="0.9"/>
<path d="M255.6 818.7L262.3 825.4L255.6 832.1L248.9 825.4Z" fill="#7f3f00" stroke="#000" stroke-width="0.9"/>
<path d="M306.3 811.6L313 818.3L306.3 825L299.6 818.3Z" fill="#ff70cc" stroke="#000" stroke-width="0.9"/>
<path d="M311.5 846.8L318.2 853.5L311.5 860.2L304.8 853.5Z" fill="#ff70cc" stroke="#000" stroke-width="0.9"/>
<path d="M357.8 865.1L364.5 871.8L357.8 878.5L351.1 871.8Z" fill="#0582ff" stroke="#000" stroke-width="0.9"/>
<path d="M341.3 871.2L348 877.9L341.3 884.6L334.6 877.9Z" fill="#0582ff" stroke="#000" stroke-width="0.9"/>
<path d="M349.4 961.8L356.1 968.5L349.4 975.2L342.7 968.5Z" fill="#0582ff" stroke="#000" stroke-width="0.9"/>
<path d="M400.7 893.3L407.4 900L400.7 906.7L394 900Z" fill="#c4001c" stroke="#000" stroke-width="0.9"/>
<path d="M384.7 911.3L391.4 918L384.7 924.7L378 918Z" fill="#c4001c" stroke="#000" stroke-width="0.9"/>
<path d="M401.5 915.1L408.2 921.8L401.5 928.5L394.8 921.8Z" fill="#c4001c" stroke="#000" stroke-width="0.9"/>
<path d="M435.4 877.3L442.1 884L435.4 890.7L428.7 884Z" fill="#8000ff" stroke="#000" stroke-width="0.9"/>
<path d="M444.1 913.5L450.8 920.2L444.1 926.9L437.4 920.2Z" fill="#8000ff" stroke="#000" stroke-width="0.9"/>
<path d="M435.4 950.1L442.1 956.8L435.4 963.5L428.7 956.8Z" fill="#8000ff" stroke="#000" stroke-width="0.9"/>
<circle cx="215.2" cy="729.5" r="6.2" fill="#1cb918" stroke="#000" stroke-width="0.9"/>
<circle cx="224.9" cy="744.5" r="6.2" fill="#1cb918" stroke="#000" stroke-width="0.9"/>
<circle cx="217.3" cy="745.4" r="6.2" fill="#1cb918" stroke="#000" stroke-width="0.9"/>
<circle cx="263.4" cy="863.9" r="6.2" fill="#7f3f00" stroke="#000" stroke-width="0.9"/>
<circle cx="272.1" cy="851" r="6.2" fill="#7f3f00" stroke="#000" stroke-width="0.9"/>
<circle cx="260.4" cy="846.9" r="6.2" fill="#7f3f00" stroke="#000" stroke-width="0.9"/>
<circle cx="306.3" cy="844.9" r="6.2" fill="#ff70cc" stroke="#000" stroke-width="0.9"/>
<circle cx="305.5" cy="852.5" r="6.2" fill="#ff70cc" stroke="#000" stroke-width="0.9"/>
<circle cx="314.7" cy="860.9" r="6.2" fill="#ff70cc" stroke="#000" stroke-width="0.9"/>
<circle cx="298" cy="872.3" r="6.2" fill="#ff70cc" stroke="#000" stroke-width="0.9"/>
<circle cx="357.6" cy="905" r="6.2" fill="#0582ff" stroke="#000" stroke-width="0.9"/>
<circle cx="357.6" cy="917.5" r="6.2" fill="#0582ff" stroke="#000" stroke-width="0.9"/>
<circle cx="341.3" cy="928.2" r="6.2" fill="#0582ff" stroke="#000" stroke-width="0.9"/>
<circle cx="384.3" cy="899.7" r="6.2" fill="#c4001c" stroke="#000" stroke-width="0.9"/>
<circle cx="389.3" cy="909.9" r="6.2" fill="#c4001c" stroke="#000" stroke-width="0.9"/>
<circle cx="395.1" cy="909.9" r="6.2" fill="#c4001c" stroke="#000" stroke-width="0.9"/>
<circle cx="427.3" cy="909.6" r="6.2" fill="#8000ff" stroke="#000" stroke-width="0.9"/>
<circle cx="431.9" cy="931.7" r="6.2" fill="#8000ff" stroke="#000" stroke-width="0.9"/>
<circle cx="435.3" cy="991" r="6.2" fill="#8000ff" stroke="#000" stroke-width="0.9"/>
<rect x="217.6" y="721" width="12.4" height="12.4" fill="#1cb918" stroke="#000" stroke-width="0.9"/>
<rect x="206.3" y="717.5" width="12.4" height="12.4" fill="#1cb918" stroke="#000" stroke-width="0.9"/>
<rect x="214.3" y="728.9" width="12.4" height="12.4" fill="#1cb918" stroke="#000" stroke-width="0.9"/>
<rect x="265.6" y="815.1" width="12.4" height="12.4" fill="#7f3f00" stroke="#000" stroke-width="0.9"/>
<rect x="265.6" y="827.6" width="12.4" height="12.4" fill="#7f3f00" stroke="#000" stroke-width="0.9"/>
<rect x="260.3" y="839" width="12.4" height="12.4" fill="#7f3f00" stroke="#000" stroke-width="0.9"/>
<rect x="294.8" y="852.4" width="12.4" height="12.4" fill="#ff70cc" stroke="#000" stroke-width="0.9"/>
<rect x="303.2" y="866.1" width="12.4" height="12.4" fill="#ff70cc" stroke="#000" stroke-width="0.9"/>
<rect x="297.8" y="855.1" width="12.4" height="12.4" fill="#ff70cc" stroke="#000" stroke-width="0.9"/>
<rect x="335.1" y="857.4" width="12.4" height="12.4" fill="#0582ff" stroke="#000" stroke-width="0.9"/>
<rect x="335.1" y="898.8" width="12.4" height="12.4" fill="#0582ff" stroke="#000" stroke-width="0.9"/>
<rect x="343.2" y="935.4" width="12.4" height="12.4" fill="#0582ff" stroke="#000" stroke-width="0.9"/>
<rect x="383.1" y="920.1" width="12.4" height="12.4" fill="#c4001c" stroke="#000" stroke-width="0.9"/>
<rect x="388.9" y="920.1" width="12.4" height="12.4" fill="#c4001c" stroke="#000" stroke-width="0.9"/>
<rect x="386.4" y="952.8" width="12.4" height="12.4" fill="#c4001c" stroke="#000" stroke-width="0.9"/>
<rect x="421.1" y="917.1" width="12.4" height="12.4" fill="#8000ff" stroke="#000" stroke-width="0.9"/>
<rect x="426.5" y="909" width="12.4" height="12.4" fill="#8000ff" stroke="#000" stroke-width="0.9"/>
<rect x="432.5" y="923.9" width="12.4" height="12.4" fill="#8000ff" stroke="#000" stroke-width="0.9"/>
<line x1="221.85" y1="708.5" x2="262.75" y2="708.5" stroke="#000" stroke-width="4.3" stroke-linecap="round" />
<text x="242.78" y="713.45" font-size="25.39" letter-spacing="0.86" text-anchor="middle" stroke="#000" stroke-width="0.3">****</text>
<line x1="266.65" y1="781.5" x2="307.55" y2="781.5" stroke="#000" stroke-width="4.3" stroke-linecap="round" />
<text x="288.13" y="786.75" font-size="25.39" letter-spacing="0.86" text-anchor="middle" stroke="#000" stroke-width="0.3">*</text>
<line x1="308.45" y1="804" x2="349.55" y2="804" stroke="#000" stroke-width="4.3" stroke-linecap="round" />
<text x="331.33" y="810.45" font-size="25.39" letter-spacing="0.86" text-anchor="middle" stroke="#000" stroke-width="0.3">***</text>
<line x1="915.8" y1="673.2" x2="915.8" y2="1063.4" stroke="#000" stroke-width="4.2" stroke-linecap="butt" />
<line x1="899.4" y1="675.3" x2="915.8" y2="675.3" stroke="#000" stroke-width="4.2" stroke-linecap="butt" />
<line x1="899.4" y1="772" x2="915.8" y2="772" stroke="#000" stroke-width="4.2" stroke-linecap="butt" />
<line x1="899.4" y1="868.5" x2="915.8" y2="868.5" stroke="#000" stroke-width="4.2" stroke-linecap="butt" />
<line x1="899.4" y1="965" x2="915.8" y2="965" stroke="#000" stroke-width="4.2" stroke-linecap="butt" />
<line x1="899.4" y1="1061.3" x2="915.8" y2="1061.3" stroke="#000" stroke-width="4.2" stroke-linecap="butt" />
<line x1="899.4" y1="1061.3" x2="1173.3" y2="1061.3" stroke="#000" stroke-width="4.2" stroke-linecap="butt" />
<text x="894.4" y="686.5" font-size="32.45" text-anchor="end" fill="#000" stroke="#000" stroke-width="0.35" textLength="52.06" lengthAdjust="spacingAndGlyphs" >100</text>
<text x="894.4" y="783.2" font-size="32.45" text-anchor="end" fill="#000" stroke="#000" stroke-width="0.35" textLength="34.7" lengthAdjust="spacingAndGlyphs" >10</text>
<text x="894.4" y="879.7" font-size="32.45" text-anchor="end" fill="#000" stroke="#000" stroke-width="0.35" textLength="17.35" lengthAdjust="spacingAndGlyphs" >1</text>
<text x="894.4" y="976.2" font-size="32.45" text-anchor="end" fill="#000" stroke="#000" stroke-width="0.35" textLength="43.37" lengthAdjust="spacingAndGlyphs" >0.1</text>
<text x="894.4" y="1072.5" font-size="32.45" text-anchor="end" fill="#000" stroke="#000" stroke-width="0.35" textLength="60.72" lengthAdjust="spacingAndGlyphs" >0.01</text>
<line x1="942.2" y1="1061.3" x2="942.2" y2="1077.8" stroke="#000" stroke-width="4.2" stroke-linecap="butt" />
<line x1="982.7" y1="1061.3" x2="982.7" y2="1077.8" stroke="#000" stroke-width="4.2" stroke-linecap="butt" />
<line x1="1023.1" y1="1061.3" x2="1023.1" y2="1077.8" stroke="#000" stroke-width="4.2" stroke-linecap="butt" />
<line x1="1063.6" y1="1061.3" x2="1063.6" y2="1077.8" stroke="#000" stroke-width="4.2" stroke-linecap="butt" />
<line x1="1104" y1="1061.3" x2="1104" y2="1077.8" stroke="#000" stroke-width="4.2" stroke-linecap="butt" />
<line x1="1144.6" y1="1061.3" x2="1144.6" y2="1077.8" stroke="#000" stroke-width="4.2" stroke-linecap="butt" />
<text transform="translate(821.5 1112.8) rotate(-90)" font-size="32.03" fill="#000" stroke="#000" stroke-width="0.35" textLength="492" lengthAdjust="spacingAndGlyphs">Cumulative HIV<tspan font-size="23.38" dy="-11.09">+</tspan><tspan dy="11.09"> of CD8</tspan><tspan font-size="23.38" dy="-11.09">-</tspan><tspan dy="11.09"> T cells (%)</tspan></text>
<text transform="translate(950.2 1103.5) rotate(-45) translate(-145.81 0)" font-size="30.78" fill="#000" stroke="#000" stroke-width="0.35" textLength="145.81" lengthAdjust="spacingAndGlyphs"><tspan font-style="italic">GFP</tspan> gRNA</text>
<text transform="translate(990.7 1103.5) rotate(-45)" font-size="30.78" text-anchor="end" fill="#000" stroke="#000" stroke-width="0.35" textLength="54.29" lengthAdjust="spacingAndGlyphs" >TB7</text>
<text transform="translate(1031.1 1103.5) rotate(-45)" font-size="30.78" text-anchor="end" fill="#000" stroke="#000" stroke-width="0.35" textLength="54.29" lengthAdjust="spacingAndGlyphs" >TB8</text>
<text transform="translate(1071.6 1103.5) rotate(-45)" font-size="30.78" text-anchor="end" fill="#000" stroke="#000" stroke-width="0.35" textLength="70.75" lengthAdjust="spacingAndGlyphs" >TB48</text>
<text transform="translate(1112 1103.5) rotate(-45)" font-size="30.78" text-anchor="end" fill="#000" stroke="#000" stroke-width="0.35" textLength="70.75" lengthAdjust="spacingAndGlyphs" >TB50</text>
<text transform="translate(1152.6 1103.5) rotate(-45)" font-size="30.78" text-anchor="end" fill="#000" stroke="#000" stroke-width="0.35" textLength="158.78" lengthAdjust="spacingAndGlyphs" >TB48+TB50</text>
<line x1="915.7" y1="983.4" x2="1168.5" y2="983.4" stroke="#000" stroke-width="3.9" stroke-linecap="round" stroke-dasharray="2.7 7.7"/>
<line x1="942.5" y1="757.3" x2="942.5" y2="760.05" stroke="#111" stroke-width="1.1" stroke-linecap="butt" />
<line x1="942.5" y1="771" x2="942.5" y2="773.3" stroke="#111" stroke-width="1.1" stroke-linecap="butt" />
<line x1="935" y1="757.3" x2="950" y2="757.3" stroke="#111" stroke-width="1.1" stroke-linecap="butt" />
<line x1="935" y1="773.3" x2="950" y2="773.3" stroke="#111" stroke-width="1.1" stroke-linecap="butt" />
<rect x="929.1" y="760.05" width="26.8" height="10.95" fill="#fff" stroke="#222" stroke-width="1.1"/>
<line x1="929.1" y1="764.9" x2="955.9" y2="764.9" stroke="#222" stroke-width="1.1" stroke-linecap="butt" />
<line x1="982.8" y1="850.9" x2="982.8" y2="853.95" stroke="#111" stroke-width="1.1" stroke-linecap="butt" />
<line x1="982.8" y1="877.15" x2="982.8" y2="887.4" stroke="#111" stroke-width="1.1" stroke-linecap="butt" />
<line x1="975.3" y1="850.9" x2="990.3" y2="850.9" stroke="#111" stroke-width="1.1" stroke-linecap="butt" />
<line x1="975.3" y1="887.4" x2="990.3" y2="887.4" stroke="#111" stroke-width="1.1" stroke-linecap="butt" />
<rect x="969.4" y="853.95" width="26.8" height="23.2" fill="#fff" stroke="#222" stroke-width="1.1"/>
<line x1="969.4" y1="868" x2="996.2" y2="868" stroke="#222" stroke-width="1.1" stroke-linecap="butt" />
<line x1="1023.5" y1="879.3" x2="1023.5" y2="886.1" stroke="#111" stroke-width="1.1" stroke-linecap="butt" />
<line x1="1023.5" y1="899.75" x2="1023.5" y2="908.2" stroke="#111" stroke-width="1.1" stroke-linecap="butt" />
<line x1="1016" y1="879.3" x2="1031" y2="879.3" stroke="#111" stroke-width="1.1" stroke-linecap="butt" />
<line x1="1016" y1="908.2" x2="1031" y2="908.2" stroke="#111" stroke-width="1.1" stroke-linecap="butt" />
<rect x="1010.1" y="886.1" width="26.8" height="13.65" fill="#fff" stroke="#222" stroke-width="1.1"/>
<line x1="1010.1" y1="892.5" x2="1036.9" y2="892.5" stroke="#222" stroke-width="1.1" stroke-linecap="butt" />
<line x1="1063.9" y1="916.3" x2="1063.9" y2="920.15" stroke="#111" stroke-width="1.1" stroke-linecap="butt" />
<line x1="1063.9" y1="942.75" x2="1063.9" y2="950.4" stroke="#111" stroke-width="1.1" stroke-linecap="butt" />
<line x1="1056.4" y1="916.3" x2="1071.4" y2="916.3" stroke="#111" stroke-width="1.1" stroke-linecap="butt" />
<line x1="1056.4" y1="950.4" x2="1071.4" y2="950.4" stroke="#111" stroke-width="1.1" stroke-linecap="butt" />
<rect x="1050.5" y="920.15" width="26.8" height="22.6" fill="#fff" stroke="#222" stroke-width="1.1"/>
<line x1="1050.5" y1="939.7" x2="1077.3" y2="939.7" stroke="#222" stroke-width="1.1" stroke-linecap="butt" />
<line x1="1104.6" y1="925.2" x2="1104.6" y2="933.25" stroke="#111" stroke-width="1.1" stroke-linecap="butt" />
<line x1="1104.6" y1="945" x2="1104.6" y2="953.9" stroke="#111" stroke-width="1.1" stroke-linecap="butt" />
<line x1="1097.1" y1="925.2" x2="1112.1" y2="925.2" stroke="#111" stroke-width="1.1" stroke-linecap="butt" />
<line x1="1097.1" y1="953.9" x2="1112.1" y2="953.9" stroke="#111" stroke-width="1.1" stroke-linecap="butt" />
<rect x="1091.2" y="933.25" width="26.8" height="11.75" fill="#fff" stroke="#222" stroke-width="1.1"/>
<line x1="1091.2" y1="937.4" x2="1118" y2="937.4" stroke="#222" stroke-width="1.1" stroke-linecap="butt" />
<line x1="1145.2" y1="917.6" x2="1145.2" y2="928.9" stroke="#111" stroke-width="1.1" stroke-linecap="butt" />
<line x1="1145.2" y1="963.45" x2="1145.2" y2="964" stroke="#111" stroke-width="1.1" stroke-linecap="butt" />
<line x1="1137.7" y1="917.6" x2="1152.7" y2="917.6" stroke="#111" stroke-width="1.1" stroke-linecap="butt" />
<line x1="1137.7" y1="964" x2="1152.7" y2="964" stroke="#111" stroke-width="1.1" stroke-linecap="butt" />
<rect x="1131.8" y="928.9" width="26.8" height="34.55" fill="#fff" stroke="#222" stroke-width="1.1"/>
<line x1="1131.8" y1="936.7" x2="1158.6" y2="936.7" stroke="#222" stroke-width="1.1" stroke-linecap="butt" />
<path d="M951 764.5L957.5 771L951 777.5L944.5 771Z" fill="#1cb918" stroke="#000" stroke-width="0.9"/>
<path d="M944.9 766.8L951.4 773.3L944.9 779.8L938.4 773.3Z" fill="#1cb918" stroke="#000" stroke-width="0.9"/>
<path d="M940 764.5L946.5 771L940 777.5L933.5 771Z" fill="#1cb918" stroke="#000" stroke-width="0.9"/>
<path d="M980.7 846.7L987.2 853.2L980.7 859.7L974.2 853.2Z" fill="#7f3f00" stroke="#000" stroke-width="0.9"/>
<path d="M985.2 844.4L991.7 850.9L985.2 857.4L978.7 850.9Z" fill="#7f3f00" stroke="#000" stroke-width="0.9"/>
<path d="M991.3 848.2L997.8 854.7L991.3 861.2L984.8 854.7Z" fill="#7f3f00" stroke="#000" stroke-width="0.9"/>
<path d="M1016.4 879.2L1022.9 885.7L1016.4 892.2L1009.9 885.7Z" fill="#ff70cc" stroke="#000" stroke-width="0.9"/>
<path d="M1024.5 880L1031 886.5L1024.5 893L1018 886.5Z" fill="#ff70cc" stroke="#000" stroke-width="0.9"/>
<path d="M1023.3 872.8L1029.8 879.3L1023.3 885.8L1016.8 879.3Z" fill="#ff70cc" stroke="#000" stroke-width="0.9"/>
<path d="M1064.2 909.8L1070.7 916.3L1064.2 922.8L1057.7 916.3Z" fill="#0582ff" stroke="#000" stroke-width="0.9"/>
<path d="M1065.9 916.9L1072.4 923.4L1065.9 929.9L1059.4 923.4Z" fill="#0582ff" stroke="#000" stroke-width="0.9"/>
<path d="M1068.2 933.2L1074.7 939.7L1068.2 946.2L1061.7 939.7Z" fill="#0582ff" stroke="#000" stroke-width="0.9"/>
<path d="M1096.3 930.2L1102.8 936.7L1096.3 943.2L1089.8 936.7Z" fill="#c4001c" stroke="#000" stroke-width="0.9"/>
<path d="M1113.1 930.9L1119.6 937.4L1113.1 943.9L1106.6 937.4Z" fill="#c4001c" stroke="#000" stroke-width="0.9"/>
<path d="M1099.4 947.4L1105.9 953.9L1099.4 960.4L1092.9 953.9Z" fill="#c4001c" stroke="#000" stroke-width="0.9"/>
<path d="M1142.5 911.1L1149 917.6L1142.5 924.1L1136 917.6Z" fill="#8000ff" stroke="#000" stroke-width="0.9"/>
<path d="M1152.7 930.2L1159.2 936.7L1152.7 943.2L1146.2 936.7Z" fill="#8000ff" stroke="#000" stroke-width="0.9"/>
<path d="M1151.1 957.1L1157.6 963.6L1151.1 970.1L1144.6 963.6Z" fill="#8000ff" stroke="#000" stroke-width="0.9"/>
<circle cx="936.5" cy="762.5" r="6.1" fill="#1cb918" stroke="#000" stroke-width="0.9"/>
<circle cx="940" cy="764" r="6.1" fill="#1cb918" stroke="#000" stroke-width="0.9"/>
<circle cx="934.2" cy="768" r="6.1" fill="#1cb918" stroke="#000" stroke-width="0.9"/>
<circle cx="991.3" cy="876" r="6.1" fill="#7f3f00" stroke="#000" stroke-width="0.9"/>
<circle cx="985.7" cy="878.3" r="6.1" fill="#7f3f00" stroke="#000" stroke-width="0.9"/>
<circle cx="975" cy="887.4" r="6.1" fill="#7f3f00" stroke="#000" stroke-width="0.9"/>
<circle cx="1030.9" cy="889.5" r="6.1" fill="#ff70cc" stroke="#000" stroke-width="0.9"/>
<circle cx="1028.6" cy="900.9" r="6.1" fill="#ff70cc" stroke="#000" stroke-width="0.9"/>
<circle cx="1019.8" cy="908.2" r="6.1" fill="#ff70cc" stroke="#000" stroke-width="0.9"/>
<circle cx="1064.4" cy="935.1" r="6.1" fill="#0582ff" stroke="#000" stroke-width="0.9"/>
<circle cx="1062" cy="942" r="6.1" fill="#0582ff" stroke="#000" stroke-width="0.9"/>
<circle cx="1056" cy="943.5" r="6.1" fill="#0582ff" stroke="#000" stroke-width="0.9"/>
<circle cx="1107.8" cy="929.8" r="6.1" fill="#c4001c" stroke="#000" stroke-width="0.9"/>
<circle cx="1105.5" cy="936.7" r="6.1" fill="#c4001c" stroke="#000" stroke-width="0.9"/>
<circle cx="1110.8" cy="945" r="6.1" fill="#c4001c" stroke="#000" stroke-width="0.9"/>
<circle cx="1147.8" cy="947.8" r="6.1" fill="#8000ff" stroke="#000" stroke-width="0.9"/>
<circle cx="1139.7" cy="964" r="6.1" fill="#8000ff" stroke="#000" stroke-width="0.9"/>
<circle cx="1145.1" cy="963.3" r="6.1" fill="#8000ff" stroke="#000" stroke-width="0.9"/>
<rect x="937.5" y="751.3" width="12" height="12" fill="#1cb918" stroke="#000" stroke-width="0.9"/>
<rect x="936.2" y="751.6" width="12" height="12" fill="#1cb918" stroke="#000" stroke-width="0.9"/>
<rect x="936.2" y="758.9" width="12" height="12" fill="#1cb918" stroke="#000" stroke-width="0.9"/>
<rect x="969.3" y="851" width="12" height="12" fill="#7f3f00" stroke="#000" stroke-width="0.9"/>
<rect x="974.7" y="862" width="12" height="12" fill="#7f3f00" stroke="#000" stroke-width="0.9"/>
<rect x="969.3" y="867.4" width="12" height="12" fill="#7f3f00" stroke="#000" stroke-width="0.9"/>
<rect x="1017.3" y="892.6" width="12" height="12" fill="#ff70cc" stroke="#000" stroke-width="0.9"/>
<rect x="1022.6" y="886.5" width="12" height="12" fill="#ff70cc" stroke="#000" stroke-width="0.9"/>
<rect x="1014.2" y="886.5" width="12" height="12" fill="#ff70cc" stroke="#000" stroke-width="0.9"/>
<rect x="1056.4" y="910.9" width="12" height="12" fill="#0582ff" stroke="#000" stroke-width="0.9"/>
<rect x="1053.8" y="933.7" width="12" height="12" fill="#0582ff" stroke="#000" stroke-width="0.9"/>
<rect x="1066" y="944.4" width="12" height="12" fill="#0582ff" stroke="#000" stroke-width="0.9"/>
<rect x="1096.1" y="919.2" width="12" height="12" fill="#c4001c" stroke="#000" stroke-width="0.9"/>
<rect x="1096.1" y="932.9" width="12" height="12" fill="#c4001c" stroke="#000" stroke-width="0.9"/>
<rect x="1098.7" y="939" width="12" height="12" fill="#c4001c" stroke="#000" stroke-width="0.9"/>
<rect x="1131.4" y="922" width="12" height="12" fill="#8000ff" stroke="#000" stroke-width="0.9"/>
<rect x="1141.8" y="923.8" width="12" height="12" fill="#8000ff" stroke="#000" stroke-width="0.9"/>
<rect x="1136.5" y="928.4" width="12" height="12" fill="#8000ff" stroke="#000" stroke-width="0.9"/>
<line x1="943.05" y1="741.4" x2="981.65" y2="741.4" stroke="#000" stroke-width="4.3" stroke-linecap="round" />
<text x="963.04" y="744.65" font-size="23" letter-spacing="0.78" text-anchor="middle" stroke="#000" stroke-width="0.3">****</text>
<line x1="984.55" y1="836.9" x2="1022.75" y2="836.9" stroke="#000" stroke-width="4.3" stroke-linecap="round" />
<text x="1004.04" y="840.55" font-size="23" letter-spacing="0.78" text-anchor="middle" stroke="#000" stroke-width="0.3">***</text>
<line x1="1023.35" y1="865.8" x2="1061.55" y2="865.8" stroke="#000" stroke-width="4.3" stroke-linecap="round" />
<text x="1042.49" y="868.45" font-size="23" letter-spacing="0.78" text-anchor="middle" stroke="#000" stroke-width="0.3">****</text>
<g filter="url(#blur)">
<line x1="1490.6" y1="639.5" x2="1490.6" y2="1067.6" stroke="#1c1c1c" stroke-width="4.5" stroke-linecap="butt" />
<line x1="1488.4" y1="1065.4" x2="1920.6" y2="1065.4" stroke="#1c1c1c" stroke-width="4.3" stroke-linecap="butt" />
<line x1="1473.2" y1="688.6" x2="1490.6" y2="688.6" stroke="#1c1c1c" stroke-width="3.2" stroke-linecap="butt" />
<line x1="1473.2" y1="852.8" x2="1490.6" y2="852.8" stroke="#1c1c1c" stroke-width="3.2" stroke-linecap="butt" />
<line x1="1473.2" y1="1016.6" x2="1490.6" y2="1016.6" stroke="#1c1c1c" stroke-width="3.2" stroke-linecap="butt" />
<line x1="1547.2" y1="1065.4" x2="1547.2" y2="1084" stroke="#1c1c1c" stroke-width="3.4" stroke-linecap="butt" />
<line x1="1732.2" y1="1065.4" x2="1732.2" y2="1084" stroke="#1c1c1c" stroke-width="3.4" stroke-linecap="butt" />
<line x1="1918.4" y1="1065.4" x2="1918.4" y2="1084" stroke="#1c1c1c" stroke-width="3.4" stroke-linecap="butt" />
<text x="1466" y="700.6" font-size="34.84" text-anchor="end" fill="#1c1c1c" stroke="#1c1c1c" stroke-width="0.8" textLength="37.26" lengthAdjust="spacingAndGlyphs" >10</text>
<text x="1466" y="864.8" font-size="34.84" text-anchor="end" fill="#1c1c1c" stroke="#1c1c1c" stroke-width="0.8" textLength="18.63" lengthAdjust="spacingAndGlyphs" >1</text>
<text x="1466" y="1028.6" font-size="34.84" text-anchor="end" fill="#1c1c1c" stroke="#1c1c1c" stroke-width="0.8" textLength="46.57" lengthAdjust="spacingAndGlyphs" >0.1</text>
<text x="1545.5" y="1120.5" font-size="32.76" text-anchor="middle" fill="#1c1c1c" stroke="#1c1c1c" stroke-width="0.7" textLength="35.04" lengthAdjust="spacingAndGlyphs" >10</text>
<text x="1731" y="1120.5" font-size="32.76" text-anchor="middle" fill="#1c1c1c" stroke="#1c1c1c" stroke-width="0.7" textLength="52.56" lengthAdjust="spacingAndGlyphs" >100</text>
<text x="1917.2" y="1120.5" font-size="32.76" text-anchor="middle" fill="#1c1c1c" stroke="#1c1c1c" stroke-width="0.7" textLength="70.08" lengthAdjust="spacingAndGlyphs" >1000</text>
<text x="1518.7" y="611.2" font-size="34.84" text-anchor="start" fill="#111" stroke="#111" stroke-width="0.95" textLength="287" lengthAdjust="spacingAndGlyphs" >Spearman r = 0.89</text>
<text x="1518.7" y="656.4" font-size="34.84" text-anchor="start" fill="#111" stroke="#111" stroke-width="0.95" textLength="160.5" lengthAdjust="spacingAndGlyphs" >p &lt; 0.0001</text>
<text transform="translate(1397.9 1130.2) rotate(-90)" font-size="35.36" fill="#1c1c1c" stroke="#1c1c1c" stroke-width="0.9" textLength="553" lengthAdjust="spacingAndGlyphs">Cumulative HIV<tspan font-size="25.81" dy="-12.24">+</tspan><tspan dy="12.24"> of CD8</tspan><tspan font-size="25.81" dy="-12.24">-</tspan><tspan dy="12.24"> T cells (%)</tspan></text>
<text transform="translate(1516.3 1176.9)" font-size="33.9" fill="#1c1c1c" stroke="#1c1c1c" stroke-width="0.55" textLength="378.5" lengthAdjust="spacingAndGlyphs">%CCR5<tspan font-size="24.75" dy="-11.74">+</tspan><tspan dy="11.74"> of CD4</tspan><tspan font-size="24.75" dy="-11.74">+</tspan><tspan dy="11.74"> (AUC)</tspan></text>
<line x1="1518.4" y1="938.2" x2="1518.4" y2="1016.8" stroke="#ac6aff" stroke-width="2.1" stroke-linecap="butt" />
<line x1="1511.15" y1="938.2" x2="1525.65" y2="938.2" stroke="#ac6aff" stroke-width="2.1" stroke-linecap="butt" />
<line x1="1511.15" y1="1016.8" x2="1525.65" y2="1016.8" stroke="#ac6aff" stroke-width="2.1" stroke-linecap="butt" />
<line x1="1533.3" y1="963.2" x2="1533.3" y2="994.4" stroke="#f04a32" stroke-width="2.1" stroke-linecap="butt" />
<line x1="1525.8" y1="963.2" x2="1540.8" y2="963.2" stroke="#f04a32" stroke-width="2.1" stroke-linecap="butt" />
<line x1="1525.8" y1="994.4" x2="1540.8" y2="994.4" stroke="#f04a32" stroke-width="2.1" stroke-linecap="butt" />
<line x1="1555.6" y1="955.2" x2="1555.6" y2="962" stroke="#f04a32" stroke-width="2.1" stroke-linecap="butt" />
<line x1="1548.1" y1="955.2" x2="1563.1" y2="955.2" stroke="#f04a32" stroke-width="2.1" stroke-linecap="butt" />
<line x1="1548.1" y1="962" x2="1563.1" y2="962" stroke="#f04a32" stroke-width="2.1" stroke-linecap="butt" />
<line x1="1559.6" y1="949.8" x2="1559.6" y2="983" stroke="#f04a32" stroke-width="2.1" stroke-linecap="butt" />
<line x1="1549.9" y1="949.8" x2="1569.3" y2="949.8" stroke="#f04a32" stroke-width="2.1" stroke-linecap="butt" />
<line x1="1549.9" y1="983" x2="1569.3" y2="983" stroke="#f04a32" stroke-width="2.1" stroke-linecap="butt" />
<line x1="1562.7" y1="988.5" x2="1562.7" y2="1024.2" stroke="#ac6aff" stroke-width="2.1" stroke-linecap="butt" />
<line x1="1552.7" y1="988.5" x2="1572.7" y2="988.5" stroke="#ac6aff" stroke-width="2.1" stroke-linecap="butt" />
<line x1="1552.7" y1="1024.2" x2="1572.7" y2="1024.2" stroke="#ac6aff" stroke-width="2.1" stroke-linecap="butt" />
<line x1="1581.2" y1="932.2" x2="1581.2" y2="972.6" stroke="#45aeff" stroke-width="2.1" stroke-linecap="butt" />
<line x1="1573.95" y1="932.2" x2="1588.45" y2="932.2" stroke="#45aeff" stroke-width="2.1" stroke-linecap="butt" />
<line x1="1573.95" y1="972.6" x2="1588.45" y2="972.6" stroke="#45aeff" stroke-width="2.1" stroke-linecap="butt" />
<line x1="1605" y1="938.2" x2="1605" y2="1002.4" stroke="#45aeff" stroke-width="2.1" stroke-linecap="butt" />
<line x1="1597.5" y1="938.2" x2="1612.5" y2="938.2" stroke="#45aeff" stroke-width="2.1" stroke-linecap="butt" />
<line x1="1597.5" y1="1002.4" x2="1612.5" y2="1002.4" stroke="#45aeff" stroke-width="2.1" stroke-linecap="butt" />
<line x1="1624.8" y1="872" x2="1624.8" y2="886.9" stroke="#ff8cf2" stroke-width="2.1" stroke-linecap="butt" />
<line x1="1617.3" y1="872" x2="1632.3" y2="872" stroke="#ff8cf2" stroke-width="2.1" stroke-linecap="butt" />
<line x1="1617.3" y1="886.9" x2="1632.3" y2="886.9" stroke="#ff8cf2" stroke-width="2.1" stroke-linecap="butt" />
<line x1="1645.9" y1="889.4" x2="1645.9" y2="903" stroke="#ff8cf2" stroke-width="2.1" stroke-linecap="butt" />
<line x1="1638.4" y1="889.4" x2="1653.4" y2="889.4" stroke="#ff8cf2" stroke-width="2.1" stroke-linecap="butt" />
<line x1="1638.4" y1="903" x2="1653.4" y2="903" stroke="#ff8cf2" stroke-width="2.1" stroke-linecap="butt" />
<line x1="1640.9" y1="889.4" x2="1640.9" y2="922.9" stroke="#ff8cf2" stroke-width="2.1" stroke-linecap="butt" />
<line x1="1632.2" y1="889.4" x2="1649.6" y2="889.4" stroke="#ff8cf2" stroke-width="2.1" stroke-linecap="butt" />
<line x1="1632.2" y1="922.9" x2="1649.6" y2="922.9" stroke="#ff8cf2" stroke-width="2.1" stroke-linecap="butt" />
<line x1="1680.6" y1="833" x2="1680.6" y2="863.3" stroke="#b86e1e" stroke-width="2.1" stroke-linecap="butt" />
<line x1="1673.1" y1="833" x2="1688.1" y2="833" stroke="#b86e1e" stroke-width="2.1" stroke-linecap="butt" />
<line x1="1673.1" y1="863.3" x2="1688.1" y2="863.3" stroke="#b86e1e" stroke-width="2.1" stroke-linecap="butt" />
<line x1="1667.5" y1="863.3" x2="1667.5" y2="884.4" stroke="#b86e1e" stroke-width="2.1" stroke-linecap="butt" />
<line x1="1658.5" y1="863.3" x2="1676.5" y2="863.3" stroke="#b86e1e" stroke-width="2.1" stroke-linecap="butt" />
<line x1="1658.5" y1="884.4" x2="1676.5" y2="884.4" stroke="#b86e1e" stroke-width="2.1" stroke-linecap="butt" />
<path d="M1518.4 959.9L1525 966.5L1518.4 973.1L1511.8 966.5Z" fill="#9933ff" stroke="#4a2580" stroke-width="1.6"/>
<path d="M1533.3 970.2L1539.9 976.8L1533.3 983.4L1526.7 976.8Z" fill="#ee220c" stroke="#8e1a10" stroke-width="1.6"/>
<rect x="1548.8" y="951.4" width="13.6" height="13.6" fill="#9933ff" stroke="#4a2580" stroke-width="1.6"/>
<circle cx="1559.6" cy="968.6" r="8.3" fill="#ee220c" stroke="#8e1a10" stroke-width="1.6"/>
<circle cx="1562.7" cy="1004.4" r="9.1" fill="#9933ff" stroke="#4a2580" stroke-width="1.6"/>
<path d="M1581.2 942.9L1587.8 949.5L1581.2 956.1L1574.6 949.5Z" fill="#0894ff" stroke="#0f4f88" stroke-width="1.6"/>
<circle cx="1574.9" cy="974.1" r="8.6" fill="#0894ff" stroke="#0f5fa0" stroke-width="1.6"/>
<rect x="1597.9" y="955.1" width="14.2" height="14.2" fill="#0894ff" stroke="#0f4f88" stroke-width="1.6"/>
<path d="M1624.8 872.1L1631.4 878.7L1624.8 885.3L1618.2 878.7Z" fill="#ff7cf2" stroke="#a04a90" stroke-width="1.6"/>
<rect x="1639.1" y="890" width="13.6" height="13.6" fill="#ff7cf2" stroke="#a04a90" stroke-width="1.6"/>
<circle cx="1640.9" cy="904.3" r="8.6" fill="#ff7cf2" stroke="#a04a90" stroke-width="1.6"/>
<path d="M1670.7 819.4L1676.9 825.6L1670.7 831.8L1664.5 825.6Z" fill="#8a4500" stroke="#4a2500" stroke-width="1.6"/>
<rect x="1673.8" y="841.2" width="13.6" height="13.6" fill="#8a4500" stroke="#4a2500" stroke-width="1.6"/>
<circle cx="1667.5" cy="872.8" r="8.6" fill="#8a4500" stroke="#4a2500" stroke-width="1.6"/>
<path d="M1825.7 675.4L1834.2 683.9L1825.7 692.4L1817.2 683.9Z" fill="#14c21c" stroke="#0a5a0a" stroke-width="1.6"/>
<path d="M1834.8 668.8L1843.3 677.3L1834.8 685.8L1826.3 677.3Z" fill="#14c21c" stroke="#0a5a0a" stroke-width="1.6"/>
<rect x="1833.7" y="660.1" width="13.4" height="13.4" fill="#14c21c" stroke="#0a5a0a" stroke-width="1.6"/>
<rect x="1831.1" y="660.1" width="13.4" height="13.4" fill="#14c21c" stroke="#0a5a0a" stroke-width="1.6"/>
</g>
</svg></body></html>
